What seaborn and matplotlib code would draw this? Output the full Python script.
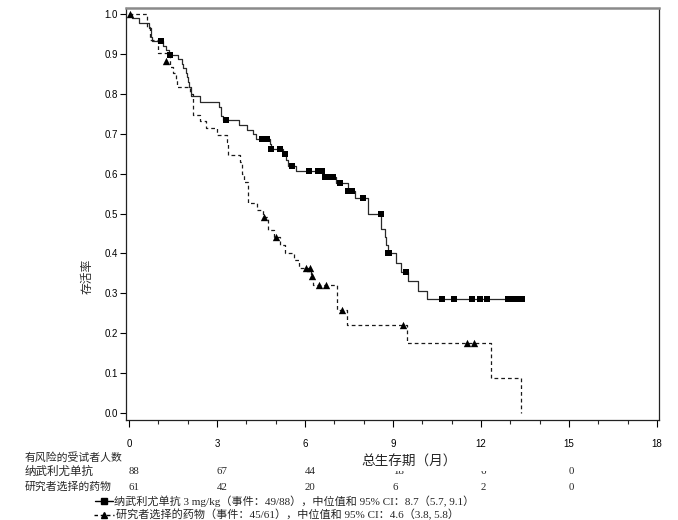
import matplotlib
matplotlib.use('Agg')
import matplotlib.pyplot as plt
import matplotlib.transforms as mtransforms
from matplotlib.lines import Line2D
from matplotlib.patches import Rectangle
import numpy as np
import pandas as pd
import seaborn as sns

# ---------------- data ----------------
nivo_time = [0, 0.11, 0.34, 0.69, 0.74, 0.77, 1.17, 1.28, 1.35, 1.66, 1.80, 1.85, 1.94,
             1.99, 2.03, 2.06, 2.11, 2.42, 3.07, 3.13, 3.20, 3.76, 4.01, 4.24, 4.33,
             4.81, 4.83, 5.26, 5.34, 5.41, 5.68, 6.60, 7.06, 7.48, 7.70, 8.14, 8.61,
             8.73, 8.78, 8.82, 9.09, 9.26, 9.50, 9.84, 10.15, 13.40]
nivo_surv = [1.0, 0.989, 0.977, 0.966, 0.943, 0.932, 0.920, 0.909, 0.898, 0.886, 0.875,
             0.864, 0.852, 0.841, 0.830, 0.818, 0.795, 0.780, 0.768, 0.745, 0.734, 0.722,
             0.710, 0.698, 0.687, 0.675, 0.662, 0.650, 0.635, 0.620, 0.607, 0.591, 0.576,
             0.557, 0.538, 0.499, 0.460, 0.440, 0.420, 0.400, 0.377, 0.354, 0.331, 0.307,
             0.285, 0.285]
nivo_cens_time = [1.09, 1.39, 3.30, 4.55, 4.69, 4.86, 5.15, 5.32, 5.55, 6.15, 6.45, 6.57,
                  6.68, 6.85, 6.97, 7.19, 7.48, 7.62, 7.97, 8.59, 8.84, 8.88, 9.44, 10.66,
                  11.08, 11.70, 11.97, 12.22, 12.93, 13.10, 13.25, 13.39]
nivo_cens_surv = [0.932, 0.898, 0.734, 0.687, 0.687, 0.662, 0.662, 0.650, 0.620, 0.607,
                  0.607, 0.607, 0.591, 0.591, 0.591, 0.576, 0.557, 0.557, 0.538, 0.499,
                  0.400, 0.400, 0.354, 0.285, 0.285, 0.285, 0.285, 0.285, 0.285, 0.285,
                  0.285, 0.285]

ic_time = [0, 0.63, 0.72, 1.00, 1.40, 1.50, 1.60, 1.65, 2.08, 2.17, 2.42, 2.63, 2.99,
           3.33, 3.38, 3.78, 3.85, 3.92, 4.07, 4.35, 4.58, 4.75, 4.95, 5.15, 5.32, 5.63,
           5.80, 6.21, 6.28, 7.10, 7.42, 9.47, 12.33, 13.37]
ic_surv = [1.0, 0.967, 0.934, 0.902, 0.868, 0.851, 0.835, 0.816, 0.800, 0.748, 0.731,
           0.714, 0.697, 0.680, 0.647, 0.630, 0.600, 0.580, 0.526, 0.509, 0.492, 0.459,
           0.440, 0.421, 0.400, 0.383, 0.364, 0.343, 0.320, 0.258, 0.220, 0.176, 0.088,
           0.0]
ic_cens_time = [0.02, 1.28, 4.61, 5.00, 6.02, 6.17, 6.24, 6.48, 6.72, 7.26, 9.33, 11.54,
                11.76]
ic_cens_surv = [1.0, 0.882, 0.492, 0.440, 0.364, 0.364, 0.343, 0.320, 0.320, 0.258,
                0.220, 0.176, 0.176]

risk_times = [0, 3, 6, 9, 12, 15]
risk_nivo = [88, 67, 44, 18, 6, 0]
risk_ic = [61, 42, 20, 6, 2, 0]

x_major = [0, 3, 6, 9, 12, 15, 18]
y_ticks = [0.0, 0.1, 0.2, 0.3, 0.4, 0.5, 0.6, 0.7, 0.8, 0.9, 1.0]

row_title = '有风险的受试者人数'
row_labels = ['纳武利尤单抗', '研究者选择的药物']
x_label = '总生存期（月）'
y_label = '存活率'
legend_texts = ['纳武利尤单抗 3 mg/kg（事件：49/88），中位值和 95% CI：8.7（5.7, 9.1）',
                '研究者选择的药物（事件：45/61），中位值和 95% CI：4.6（3.8, 5.8）']

# ---------------- style ----------------
sns.set_style('ticks')
plt.rcParams['font.family'] = ['Liberation Sans', 'Noto Sans CJK SC']
CJK = ['Liberation Serif', 'Noto Sans CJK SC']

W, H = 678, 520
fig = plt.figure(figsize=(W / 100, H / 100), dpi=100)
ax = fig.add_axes([126 / W, 1 - 420 / H, (659 - 126) / W, (420 - 8) / H])


def fx(px):
    return px / W


def fy(py):
    return 1 - py / H


df_n = pd.DataFrame({'t': nivo_time, 's': nivo_surv})
df_i = pd.DataFrame({'t': ic_time, 's': ic_surv})
sns.lineplot(data=df_n, x='t', y='s', ax=ax, drawstyle='steps-post', estimator=None,
             sort=False, color='#2a2a2a', lw=0.9)
sns.lineplot(data=df_i, x='t', y='s', ax=ax, drawstyle='steps-post', estimator=None,
             sort=False, color='#1a1a1a', lw=0.9, dashes=False, linestyle=(0, (3, 2.4)))
sns.scatterplot(x=nivo_cens_time, y=nivo_cens_surv, ax=ax, marker='s', s=22,
                color='black', linewidth=0, zorder=4)
sns.scatterplot(x=ic_cens_time, y=ic_cens_surv, ax=ax, marker='^', s=28,
                color='black', linewidth=0, zorder=4)

ax.set_xlim(-0.10, 18.07)
ax.set_ylim(-0.0175, 1.015)
ax.set_xticks(x_major)
ax.set_xticks(range(0, 19), minor=True)
ax.set_yticks(y_ticks)
ax.set_yticklabels([f'{v:.1f}' for v in y_ticks])
ax.set_xlabel('')
ax.set_ylabel('')
ax.tick_params(axis='x', which='major', length=5, width=0.8, pad=9, labelsize=7,
               colors='black')
ax.tick_params(axis='x', which='minor', length=3, width=0.8)
ax.tick_params(axis='y', which='major', length=4, width=0.8, pad=2, labelsize=7,
               colors='black')
for side in ['left', 'right', 'bottom']:
    ax.spines[side].set_visible(True)
    ax.spines[side].set_color('#222222')
    ax.spines[side].set_linewidth(0.9)
ax.spines['top'].set_visible(True)
ax.spines['top'].set_color('#8a8a8a')
ax.spines['top'].set_linewidth(1.8)

# y label
fig.text(fx(88), fy(276), y_label, rotation=90, family=CJK, size=8.5,
         ha='center', va='center')

# risk table
trans = mtransforms.blended_transform_factory(ax.transData, fig.transFigure)
fig.text(fx(25), fy(457), row_title, family=CJK, size=7.8, ha='left', va='center')
fig.text(fx(25), fy(472), row_labels[0], family=CJK, size=8.3, ha='left', va='center')
fig.text(fx(25), fy(487), row_labels[1], family=CJK, size=7.8, ha='left', va='center')
for t, n in zip(risk_times, risk_nivo):
    ax.text(t, fy(472), str(n), transform=trans, family=CJK, size=7.8,
            ha='left', va='center', clip_on=False)
for t, n in zip(risk_times, risk_ic):
    ax.text(t, fy(487), str(n), transform=trans, family=CJK, size=7.8,
            ha='left', va='center', clip_on=False)

# x label with white box hiding part of the first risk row
fig.add_artist(Rectangle((fx(360), fy(471)), fx(500) - fx(360), fy(450) - fy(471),
                         transform=fig.transFigure, facecolor='white',
                         edgecolor='none', zorder=5))
fig.text(fx(409), fy(462), x_label, family=CJK, size=9.8, ha='center', va='center',
         zorder=6)

# legend lines
fig.add_artist(Line2D([fx(95), fx(113)], [fy(501), fy(501)], color='black', lw=1.0,
                      transform=fig.transFigure))
fig.add_artist(Line2D([fx(104)], [fy(501)], color='black', marker='s', markersize=4.2,
                      lw=0, transform=fig.transFigure))
fig.add_artist(Line2D([fx(94), fx(114)], [fy(515), fy(515)], color='black', lw=1.0,
                      linestyle=(0, (2.5, 2)), transform=fig.transFigure))
fig.add_artist(Line2D([fx(104)], [fy(515)], color='black', marker='^', markersize=4.5,
                      lw=0, transform=fig.transFigure))
fig.text(fx(114), fy(501), legend_texts[0], family=CJK, size=8, ha='left', va='center')
fig.text(fx(116), fy(515), legend_texts[1], family=CJK, size=8, ha='left', va='center')

fig.savefig('out.png', dpi=100, facecolor='white')
